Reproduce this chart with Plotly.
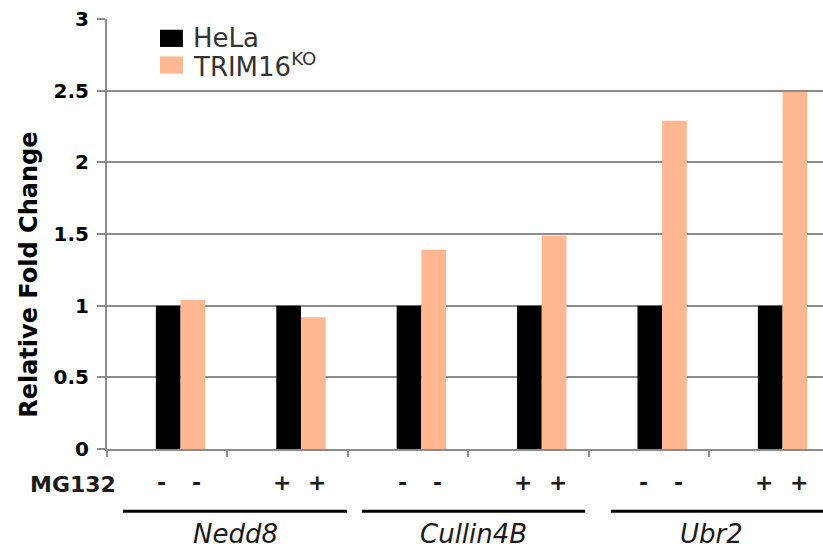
import plotly.graph_objects as go

# Data
genes = ["Nedd8", "Cullin4B", "Ubr2"]
mg132 = ["-", "+"]
categories = [f"{g} {m}" for g in genes for m in mg132]
hela = [1, 1, 1, 1, 1, 1]
trim16ko = [1.04, 0.92, 1.39, 1.49, 2.29, 2.49]
y_ticks = [0, 0.5, 1, 1.5, 2, 2.5, 3]
y_tick_labels = ["0", "0.5", "1", "1.5", "2", "2.5", "3"]

series_names = ["HeLa", "TRIM16<sup>KO</sup>"]
colors = ["#000000", "#FFB891"]

FONT = "DejaVu Sans"
GRID = "#8c8c8c"

fig = go.Figure()
bar_w = 0.205
offsets = [-0.094, 0.111]
for name, vals, col, off in zip(series_names, [hela, trim16ko], colors, offsets):
    fig.add_trace(go.Bar(
        x=categories, y=vals, name=name,
        marker=dict(color=col, line=dict(width=0)),
        width=bar_w, offset=off, showlegend=False,
    ))

annotations = []
shapes = []

# Legend swatches and labels
leg_y = [0.955, 0.893]
for name, col, yc in zip(series_names, colors, leg_y):
    shapes.append(dict(type="rect", xref="paper", yref="paper",
                       x0=0.074, x1=0.106, y0=yc - 0.02, y1=yc + 0.02,
                       fillcolor=col, line=dict(width=0)))
    annotations.append(dict(text=name, xref="paper", yref="paper",
                            x=0.118, y=yc, xanchor="left", yanchor="middle",
                            showarrow=False,
                            font=dict(family=FONT, size=26, color="#333333")))

# MG132 treatment row
annotations.append(dict(text="<b>MG132</b>", xref="paper", yref="paper",
                        x=0.015, y=-0.083, xanchor="right", yanchor="middle",
                        showarrow=False, font=dict(family=FONT, size=22, color="#1a1a1a")))
sign_offsets = [-0.045, 0.245]
for i, cat in enumerate(categories):
    sign = mg132[i % 2]
    for so in sign_offsets:
        annotations.append(dict(text=f"<b>{sign}</b>", xref="x", yref="paper",
                                x=i + so, y=-0.078, xanchor="center", yanchor="middle",
                                showarrow=False,
                                font=dict(family=FONT, size=22, color="#1a1a1a")))

# Gene group brackets and labels
line_spans = [(-0.367, 1.493), (1.618, 3.47), (3.686, 5.6)]
label_pos = [0.571, 2.543, 4.517]
for g, (a, b), lp in zip(genes, line_spans, label_pos):
    shapes.append(dict(type="line", xref="x", yref="paper", x0=a, x1=b,
                       y0=-0.145, y1=-0.145, line=dict(color="#000000", width=3)))
    annotations.append(dict(text=f"<i>{g}</i>", xref="x", yref="paper",
                            x=lp, y=-0.197, xanchor="center", yanchor="middle",
                            showarrow=False,
                            font=dict(family=FONT, size=26, color="#1a1a1a")))

# Y-axis title
annotations.append(dict(text="<b>Relative Fold Change</b>", xref="paper", yref="paper",
                        x=-0.109, y=0.405, textangle=-90, xanchor="center", yanchor="middle",
                        showarrow=False, font=dict(family=FONT, size=24, color="#000000")))

fig.update_layout(
    width=823, height=549,
    margin=dict(l=107, r=0, t=19, b=100),
    plot_bgcolor="white", paper_bgcolor="white",
    barmode="overlay",
    showlegend=False,
    annotations=annotations,
    shapes=shapes,
    xaxis=dict(
        type="category", range=[-0.5, 5.447],
        showticklabels=False, tickson="boundaries",
        ticks="outside", ticklen=6, tickwidth=2, tickcolor=GRID,
        showline=True, linecolor=GRID, linewidth=2,
        showgrid=False, zeroline=False,
    ),
    yaxis=dict(
        range=[0, 3], tickvals=y_ticks, ticktext=y_tick_labels,
        ticks="outside", ticklen=8, tickwidth=2, tickcolor=GRID,
        showline=True, linecolor=GRID, linewidth=2,
        showgrid=True, gridcolor=GRID, gridwidth=2,
        zeroline=False,
        tickfont=dict(family=FONT, size=20, color="#000000", weight="bold"),
        ticklabelstandoff=4,
    ),
)

fig.write_html("out.html")
